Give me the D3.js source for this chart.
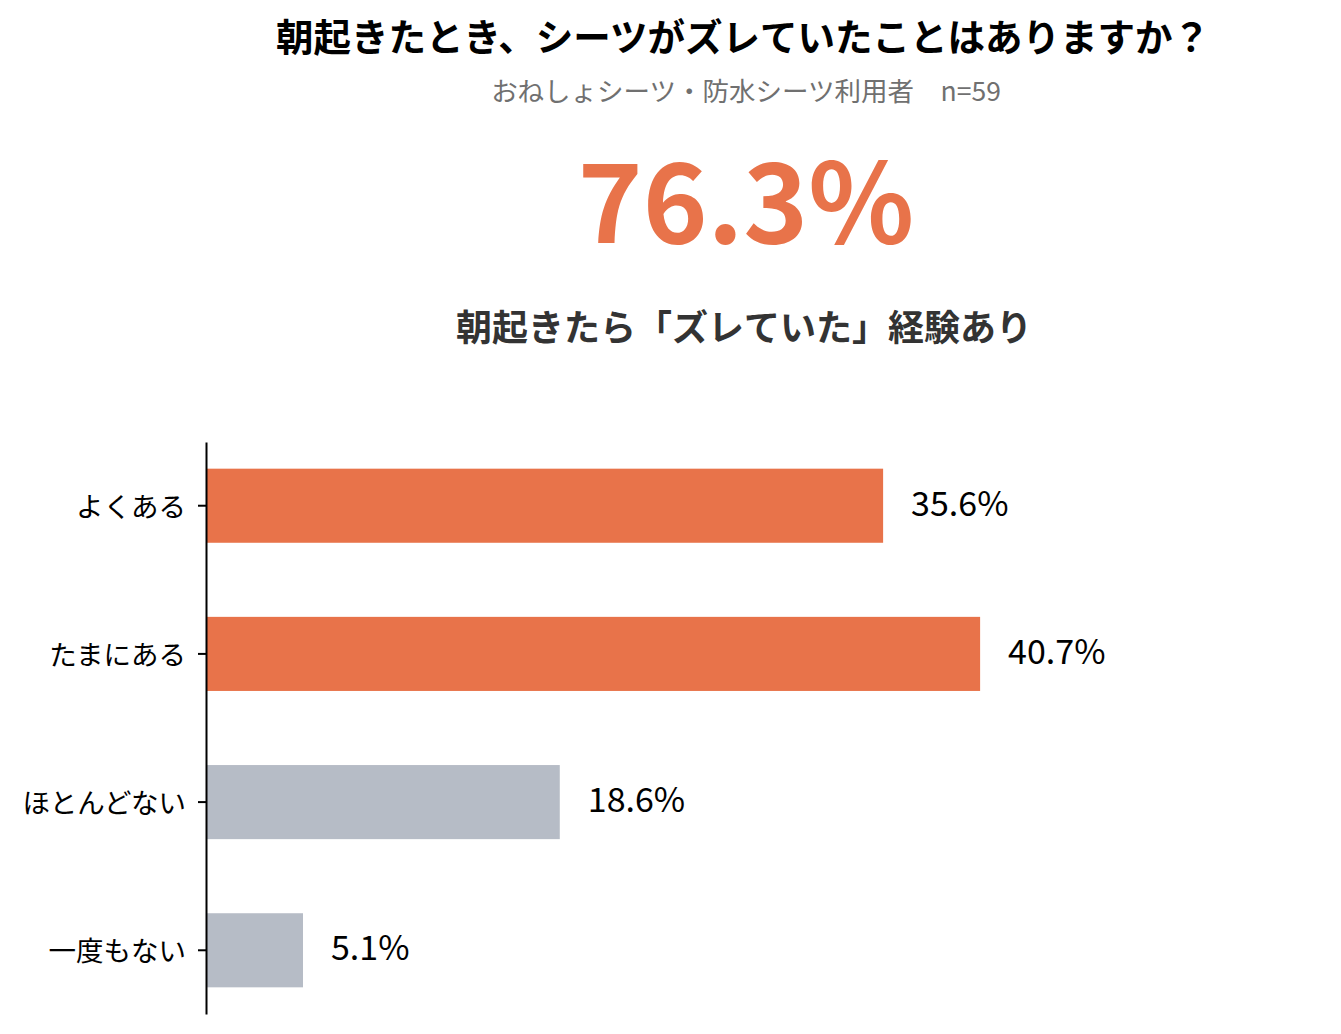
<!DOCTYPE html>
<html>
<head>
<meta charset="utf-8">
<script src="https://cdn.jsdelivr.net/npm/d3@7"></script>
<style>
  body { margin: 0; background: #fff; }
  text { font-family: "Noto Sans CJK JP", "Noto Sans", sans-serif; }
</style>
</head>
<body>
<svg id="chart"></svg>
<script>
const categories = ["よくある", "たまにある", "ほとんどない", "一度もない"];
const values = [35.6, 40.7, 18.6, 5.1];
const highlighted = [true, true, false, false];

const title = "朝起きたとき、シーツがズレていたことはありますか？";
const subtitle = "おねしょシーツ・防水シーツ利用者　n=59";
const bigNumber = "76.3%";
const summary = "朝起きたら「ズレていた」経験あり";

const width = 1341, height = 1034;
const orange = "#e8734a", grey = "#b6bcc6";

const svg = d3.select("#chart")
  .attr("width", width)
  .attr("height", height);

// headings
svg.append("text")
  .attr("x", 743).attr("y", 51)
  .attr("text-anchor", "middle")
  .attr("font-size", 37.5).attr("font-weight", 700)
  .attr("fill", "#000")
  .text(title);

svg.append("text")
  .attr("x", 746).attr("y", 101)
  .attr("text-anchor", "middle")
  .attr("font-size", 26.5)
  .attr("fill", "#707070")
  .text(subtitle);

svg.append("text")
  .attr("x", 746).attr("y", 243)
  .attr("text-anchor", "middle")
  .attr("font-size", 110).attr("font-weight", 700)
  .attr("fill", orange)
  .text(bigNumber);

svg.append("text")
  .attr("x", 744).attr("y", 341)
  .attr("text-anchor", "middle")
  .attr("font-size", 36).attr("font-weight", 700)
  .attr("fill", "#333")
  .text(summary);

// bar chart
const x = d3.scaleLinear()
  .domain([0, 50])
  .range([206, 206 + 951]);

const y = d3.scaleBand()
  .domain(categories)
  .range([442, 1014])
  .paddingInner(0.5)
  .paddingOuter(0.18);

svg.append("g")
  .selectAll("rect")
  .data(categories)
  .join("rect")
  .attr("x", x(0))
  .attr("y", d => y(d))
  .attr("width", (d, i) => x(values[i]) - x(0))
  .attr("height", y.bandwidth())
  .attr("fill", (d, i) => highlighted[i] ? orange : grey);

svg.append("g")
  .selectAll("text")
  .data(categories)
  .join("text")
  .attr("x", (d, i) => x(values[i]) + 28)
  .attr("y", d => y(d) + y.bandwidth() / 2)
  .attr("dy", "0.3em")
  .attr("font-size", 34)
  .attr("fill", "#000")
  .text((d, i) => values[i] + "%");

const yAxis = svg.append("g")
  .attr("transform", `translate(${x(0)},0)`)
  .call(d3.axisLeft(y).tickSize(8).tickPadding(12).tickSizeOuter(0));

yAxis.select(".domain").attr("stroke", "#000").attr("stroke-width", 2);
yAxis.selectAll(".tick line").attr("stroke", "#000").attr("stroke-width", 2);
yAxis.selectAll(".tick text")
  .attr("font-size", 27.5)
  .attr("dy", "0.4em")
  .attr("fill", "#000")
  .style("font-family", "'Noto Sans CJK JP', sans-serif");
</script>
</body>
</html>
